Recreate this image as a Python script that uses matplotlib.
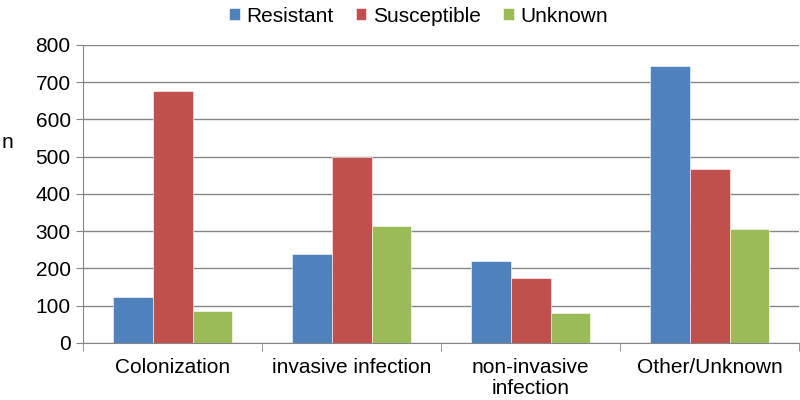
import numpy as np
import matplotlib
matplotlib.use('Agg')
import matplotlib.pyplot as plt

plt.rcParams['font.family'] = ['Liberation Sans', 'DejaVu Sans']

categories = ['Colonization', 'invasive infection', 'non-invasive\ninfection', 'Other/Unknown']
resistant = [122, 238, 220, 744]
susceptible = [676, 500, 174, 466]
unknown = [85, 313, 79, 306]

series = [('Resistant', resistant, '#4F81BD'),
          ('Susceptible', susceptible, '#C0504D'),
          ('Unknown', unknown, '#9BBB59')]

grey = '#868686'
fs = 15
fig = plt.figure(figsize=(8, 4), dpi=100)
ax = fig.add_axes([0.104, 0.143, 0.895, 0.745])

ind = np.arange(len(categories))
width = 1 / 4.5
for i, (name, vals, col) in enumerate(series):
    ax.bar(ind + (i - 1) * width, vals, width=width, color=col, label=name,
           edgecolor='white', linewidth=0.4, zorder=3)

ax.set_xlim(-0.5, len(categories) - 0.5)
ax.set_ylim(0, 800)
ax.set_yticks(range(0, 801, 100))
ax.tick_params(axis='y', labelsize=fs, length=5, color=grey, pad=4)
ax.set_xticks(ind)
ax.set_xticklabels(categories, fontsize=fs, linespacing=1.15)
ax.set_xticks(np.arange(-0.5, len(categories), 1), minor=True)
ax.tick_params(axis='x', which='major', length=0, pad=11)
ax.tick_params(axis='x', which='minor', length=6, color=grey)
ax.grid(axis='y', color=grey, linewidth=1, zorder=0)

for s in ['top', 'right']:
    ax.spines[s].set_visible(False)
for s in ['left', 'bottom']:
    ax.spines[s].set_color(grey)

fig.text(0.002, 0.645, 'n', fontsize=fs, va='center', ha='left')

fig.legend(loc='upper center', bbox_to_anchor=(0.523, 1.03), ncol=3, frameon=False,
           fontsize=fs, handlelength=0.5, handleheight=0.5, handletextpad=0.3,
           columnspacing=1.1)

plt.savefig('out.png', dpi=100)
